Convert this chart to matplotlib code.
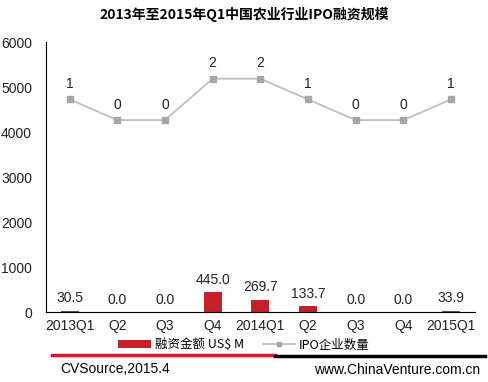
import matplotlib
matplotlib.use("Agg")
import matplotlib.pyplot as plt
from matplotlib.lines import Line2D
from matplotlib.patches import Patch
import numpy as np

plt.rcParams['font.family'] = ['Liberation Sans', 'Noto Sans CJK SC', 'DejaVu Sans']

categories = ['2013Q1', 'Q2', 'Q3', 'Q4', '2014Q1', 'Q2', 'Q3', 'Q4', '2015Q1']
amounts = [30.5, 0.0, 0.0, 445.0, 269.7, 133.7, 0.0, 0.0, 33.9]
ipo_counts = [1, 0, 0, 2, 2, 1, 0, 0, 1]
yticks = [0, 1000, 2000, 3000, 4000, 5000, 6000]

bar_color = '#C8202B'
line_color = '#BFBFBF'
marker_color = '#A6A6A6'

fig = plt.figure(figsize=(4.88, 3.82), dpi=100)
ax = fig.add_axes([0.094, 0.183, 0.879, 0.707])
x = np.arange(len(categories))
ax.bar(x, amounts, width=0.38, color=bar_color, zorder=2)
ax.set_xlim(-0.5, len(categories) - 0.5)
ax.set_ylim(0, 6000)
ax.set_yticks(yticks)
ax.set_xticks(x)
ax.set_xticklabels(categories)
for s in ['top', 'right']:
    ax.spines[s].set_visible(False)
ax.tick_params(axis='both', length=0, labelsize=10, colors='#222222')
ax.tick_params(axis='y', pad=10)
ax.tick_params(axis='x', pad=5)
for xi, v in zip(x, amounts):
    ax.annotate(f'{v:.1f}', (xi, v), xytext=(0, 4), textcoords='offset points',
                ha='center', va='bottom', fontsize=10, color='#222222')

ax2 = ax.twinx()
ax2.set_ylim(-9.27, 3.77)
ax2.axis('off')
ax2.plot(x, ipo_counts, color=line_color, lw=1.3, marker='s', ms=4,
         mfc=marker_color, mec=marker_color, zorder=3)
for xi, v in zip(x, ipo_counts):
    ax2.annotate(f'{v}', (xi, v), xytext=(0, 6), textcoords='offset points',
                 ha='center', va='bottom', fontsize=10, color='#222222')

fig.text(0.5, 0.962, '2013年至2015年Q1中国农业行业IPO融资规模', ha='center', va='center',
         fontsize=10, fontweight='bold', family=['Noto Sans CJK SC', 'DejaVu Sans'])

handles = [Patch(facecolor=bar_color, edgecolor='none'),
           Line2D([0], [0], color=line_color, lw=1.3, marker='s', ms=3,
                  mfc=marker_color, mec=marker_color)]
fig.legend(handles, ['融资金额 US$ M', 'IPO企业数量'], loc='center',
           bbox_to_anchor=(0.5, 0.097), ncol=2, frameon=False,
           prop={'family': ['Noto Sans CJK SC', 'DejaVu Sans'], 'size': 9},
           handlelength=2.6, handleheight=0.6, columnspacing=1.5, handletextpad=0.3)

fig.add_artist(Line2D([52/488, 275/488], [1 - 355/382] * 2, color=bar_color, lw=2.5,
                      transform=fig.transFigure))
fig.add_artist(Line2D([275/488, 485/488], [1 - 356/382] * 2, color='black', lw=2.5,
                      transform=fig.transFigure))
fig.text(60/488, 1 - 369/382, 'CVSource,2015.4', ha='left', va='center', fontsize=10)
fig.text(480/488, 1 - 370/382, 'www.ChinaVenture.com.cn', ha='right', va='center', fontsize=10)

fig.savefig('out.png', dpi=100)
